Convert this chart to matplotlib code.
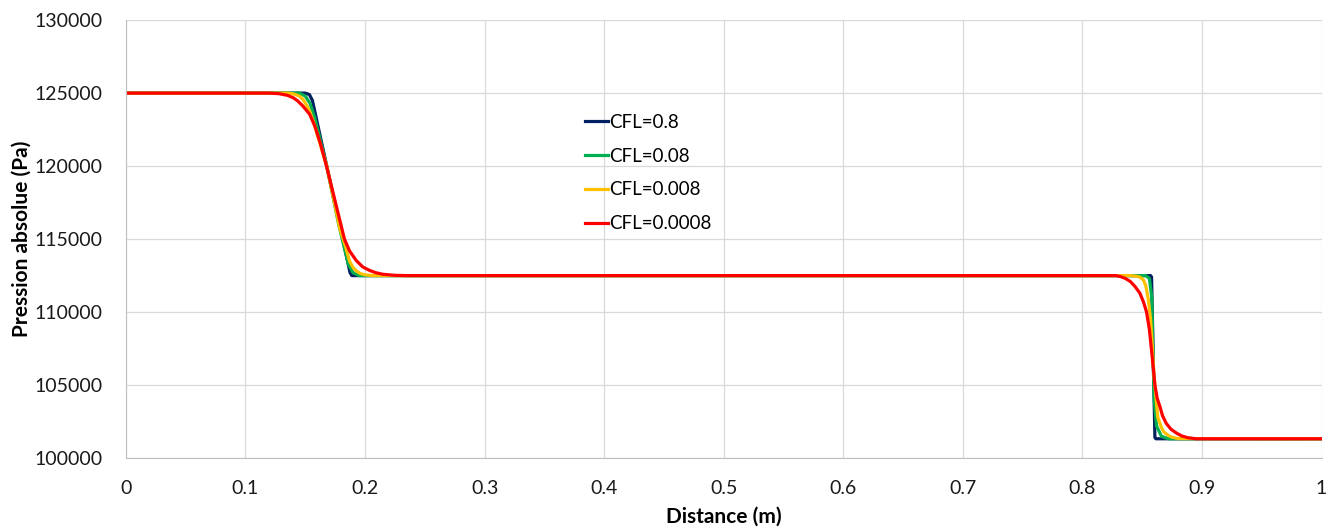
import matplotlib
matplotlib.use('Agg')
import matplotlib.pyplot as plt

plt.rcParams['font.family'] = ['Lato', 'DejaVu Sans']

# Pressure profiles (x in m, p in Pa)
x_cfl_08 = [0, 0.150, 0.1535, 0.156, 0.168, 0.180, 0.1875, 0.189, 0.192,
            0.857, 0.8578, 0.8606, 0.8615, 1]
p_cfl_08 = [125000, 125000, 124900, 124500, 120000, 115500, 112700, 112500, 112500,
            112500, 112400, 101400, 101325, 101325]

x_cfl_008 = [0, 0.145, 0.150, 0.154, 0.158, 0.168, 0.178, 0.186, 0.190, 0.195, 0.200,
             0.853, 0.856, 0.858, 0.859, 0.860, 0.862, 0.866, 0.872, 1]
p_cfl_008 = [125000, 125000, 124800, 124300, 123300, 120000, 116000, 113300, 112700, 112500, 112500,
             112500, 112300, 111000, 107000, 104000, 102200, 101500, 101325, 101325]

x_cfl_0008 = [0, 0.136, 0.141, 0.145, 0.148, 0.151, 0.154, 0.157, 0.168, 0.179, 0.184, 0.187,
              0.190, 0.193, 0.196, 0.200, 0.207,
              0.840, 0.845, 0.848, 0.851, 0.853, 0.855, 0.857, 0.860, 0.863, 0.866, 0.868,
              0.871, 0.874, 0.880, 1]
p_cfl_0008 = [125000, 125000, 124930, 124800, 124580, 124200, 123700, 123000, 120000, 115700, 114400, 113500,
              113050, 112800, 112640, 112550, 112500,
              112500, 112460, 112400, 112200, 111800, 110900, 109500, 105500, 102800, 102100, 101800,
              101600, 101450, 101340, 101325]

x_cfl_00008 = [0, 0.120, 0.128, 0.135, 0.140, 0.1436, 0.148, 0.1536, 0.158, 0.1625, 0.1678,
               0.1753, 0.1828, 0.187, 0.1926, 0.198, 0.2037, 0.209, 0.215, 0.225, 0.235,
               0.828, 0.832, 0.836, 0.840, 0.844, 0.848, 0.851, 0.8536, 0.856, 0.8586,
               0.8606, 0.8625, 0.8648, 0.867, 0.870, 0.874, 0.8787, 0.883, 0.888, 0.895, 1]
p_cfl_00008 = [125000, 125000, 124960, 124850, 124680, 124470, 124120, 123560, 122750, 121600, 120000,
               117500, 115000, 114200, 113540, 113100, 112860, 112700, 112590, 112520, 112500,
               112500, 112430, 112300, 112100, 111750, 111300, 110700, 110010, 108800, 106714,
               105007, 104100, 103525, 102900, 102390, 101980, 101710, 101520, 101400, 101325, 101325]

labels = ['CFL=0.8', 'CFL=0.08', 'CFL=0.008', 'CFL=0.0008']
colors = ['#002060', '#00B050', '#FFC000', '#FF0000']
xs = [x_cfl_08, x_cfl_008, x_cfl_0008, x_cfl_00008]
ps = [p_cfl_08, p_cfl_008, p_cfl_0008, p_cfl_00008]

x_ticks = [0, 0.1, 0.2, 0.3, 0.4, 0.5, 0.6, 0.7, 0.8, 0.9, 1]
x_tick_labels = ['0', '0.1', '0.2', '0.3', '0.4', '0.5', '0.6', '0.7', '0.8', '0.9', '1']
y_ticks = [100000, 105000, 110000, 115000, 120000, 125000, 130000]

fig = plt.figure(figsize=(13.39, 5.29), dpi=100)
ax = fig.add_axes([0.094, 0.134, 0.893, 0.828])

for x, p, lab, c in zip(xs, ps, labels, colors):
    ax.plot(x, p, color=c, lw=2.3, label=lab, solid_joinstyle='round')

ax.set_xlim(0, 1)
ax.set_ylim(100000, 130000)
ax.set_xticks(x_ticks)
ax.set_xticklabels(x_tick_labels)
ax.set_yticks(y_ticks)
ax.tick_params(axis='x', length=0, labelsize=14, colors='#1a1a1a', pad=16)
ax.tick_params(axis='y', length=0, labelsize=14, colors='#1a1a1a', pad=17)
ax.grid(True, color='#D9D9D9', lw=0.9)
ax.set_axisbelow(True)
for side in ['top', 'right']:
    ax.spines[side].set_visible(False)
for side in ['left', 'bottom']:
    ax.spines[side].set_color('#BFBFBF')

ax.set_xlabel('Distance (m)', fontsize=15, fontweight='bold', labelpad=7)
ax.set_ylabel('Pression absolue (Pa)', fontsize=15, fontweight='bold', labelpad=2)

ax.legend(loc='upper left', bbox_to_anchor=(0.37, 0.825), frameon=False,
          handlelength=1.2, handletextpad=0.1, labelspacing=0.9, fontsize=13.5)

plt.savefig('out.png', dpi=100)
plt.close()
